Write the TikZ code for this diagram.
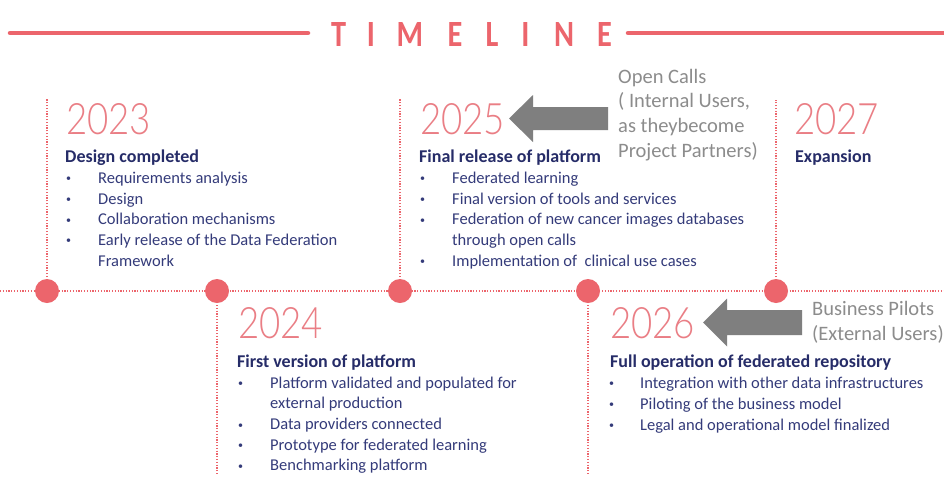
\documentclass[tikz,border=0pt]{standalone}
\usepackage{fontspec}
\usepackage{graphicx}
\setmainfont{Carlito}
\IfFontExistsTF{Lato Light}{\newfontfamily\yearfont{Lato Light}}{%
 \IfFontExistsTF{Open Sans Light}{\newfontfamily\yearfont{Open Sans Light}}{%
  \IfFontExistsTF{Fira Sans Light}{\newfontfamily\yearfont{Fira Sans Light}}{%
   \newfontfamily\yearfont{Carlito}}}}
\usetikzlibrary{calc}
\definecolor{pinkline}{HTML}{EC656C}
\definecolor{yearpink}{HTML}{EA7E85}
\definecolor{navy}{HTML}{262C68}
\definecolor{itemblue}{HTML}{343B7A}
\definecolor{notegray}{HTML}{8C8C8C}
\definecolor{arrowgray}{HTML}{7F7F7F}
\begin{document}
\begin{tikzpicture}[x=1pt,y=-1pt,
 yearst/.style={anchor=base west,inner sep=0pt,text=yearpink,font=\yearfont\fontsize{45}{45}\selectfont},
 headst/.style={anchor=base west,inner sep=0pt,text=navy,font=\bfseries\fontsize{18}{20}\selectfont},
 itemst/.style={anchor=base west,inner sep=0pt,text=itemblue,font=\fontsize{16.5}{20}\selectfont},
 bulst/.style={anchor=base west,inner sep=0pt,text=itemblue,font=\fontsize{10}{12}\selectfont},
 notest/.style={anchor=base west,inner sep=0pt,text=notegray,font=\fontsize{20.5}{24}\selectfont},
 letterst/.style={anchor=base,inner sep=0pt,text=pinkline,font=\bfseries\fontsize{37}{37}\selectfont},
 titleline/.style={draw=pinkline,line width=4.5pt,line cap=round},
 dotline/.style={draw=pinkline,line width=1.3pt,dash pattern=on 1.2pt off 1.6pt},
 dotc/.style={circle,fill=pinkline,minimum size=24pt,inner sep=0pt},
 arrowfill/.style={fill=arrowgray},
]
\fill[white] (0,0) rectangle (944,477);
\useasboundingbox (0,0) rectangle (944,477);

% title
\coordinate (tl0) at (10,33); \coordinate (tl1) at (308,33);
\coordinate (tr0) at (628,33); \coordinate (tr1) at (950,33);
\draw[titleline] (tl0) -- (tl1);
\draw[titleline] (tr0) -- (tr1);
\newcommand{\tlet}[1]{\scalebox{0.82}[1]{#1}}
\node[letterst] (t1) at (338.7,46) {\tlet{T}};
\node[letterst] (t2) at (371,46) {\tlet{I}};
\node[letterst] (t3) at (410,46) {\tlet{M}};
\node[letterst] (t4) at (455,46) {\tlet{E}};
\node[letterst] (t5) at (492,46) {\tlet{L}};
\node[letterst] (t6) at (525.5,46) {\tlet{I}};
\node[letterst] (t7) at (564,46) {\tlet{N}};
\node[letterst] (t8) at (604.5,46) {\tlet{E}};

% timeline axis
\coordinate (m0) at (0,291); \coordinate (m1) at (944,291);
\coordinate (p23) at (47,291); \coordinate (p24) at (217,291);
\coordinate (p25) at (400,291); \coordinate (p26) at (588,291);
\coordinate (p27) at (776,291);
\coordinate (v23) at (47,98); \coordinate (v25) at (400,98);
\coordinate (v27) at (776,100);
\coordinate (v24) at (217,474); \coordinate (v26) at (588,474);
\draw[dotline] (m0) -- (m1);
\draw[dotline] (p23) -- (v23);
\draw[dotline] (p25) -- (v25);
\draw[dotline] (p27) -- (v27);
\draw[dotline] (p24) -- (v24);
\draw[dotline] (p26) -- (v26);
\node[dotc] (d23) at (p23) {};
\node[dotc] (d24) at (p24) {};
\node[dotc] (d25) at (p25) {};
\node[dotc] (d26) at (p26) {};
\node[dotc] (d27) at (p27) {};

\newcommand{\yr}[1]{\resizebox{85pt}{31pt}{#1}}
\newcommand{\bl}{\raisebox{1.2pt}{\textbullet}}

% 2023
\node[yearst] (y23) at (66,134) {\yr{2023}};
\node[headst] (h23) at (65,162) {Design completed};
\node[bulst] (b23a) at (66,183) {\bl};
\node[itemst] (i23a) at (98,183) {Requirements analysis};
\node[bulst] (b23b) at (66,204) {\bl};
\node[itemst] (i23b) at (98,204) {Design};
\node[bulst] (b23c) at (66,224.5) {\bl};
\node[itemst] (i23c) at (98,224.5) {Collaboration mechanisms};
\node[bulst] (b23d) at (66,245) {\bl};
\node[itemst] (i23d) at (98,245) {Early release of the Data Federation};
\node[itemst] (i23e) at (98,266) {Framework};

% 2025
\node[yearst] (y25) at (420,134) {\yr{2025}};
\node[headst] (h25) at (419,162) {Final release of platform};
\node[bulst] (b25a) at (420,183) {\bl};
\node[itemst] (i25a) at (452,183) {Federated learning};
\node[bulst] (b25b) at (420,204) {\bl};
\node[itemst] (i25b) at (452,204) {Final version of tools and services};
\node[bulst] (b25c) at (420,224.5) {\bl};
\node[itemst] (i25c) at (452,224.5) {Federation of new cancer images databases};
\node[itemst] (i25d) at (452,245) {through open calls};
\node[bulst] (b25e) at (420,266) {\bl};
\node[itemst] (i25e) at (452,266) {Implementation of\ \ clinical use cases};

% open calls note + arrow
\node[notest] (oc1) at (618,83) {Open Calls};
\node[notest] (oc2) at (618,107.7) {( Internal Users,};
\node[notest] (oc3) at (618,132.4) {as theybecome};
\node[notest] (oc4) at (618,157) {Project Partners)};
\coordinate (tipA) at (509,118.5); \coordinate (tailA) at (608,118.5);
\fill[arrowfill] (tipA) -- ($(tipA)+(24,-23.5)$) -- ($(tipA)+(24,-11.5)$) -- ($(tailA)+(0,-11.5)$)
  -- ($(tailA)+(0,11.5)$) -- ($(tipA)+(24,11.5)$) -- ($(tipA)+(24,23.5)$) -- cycle;

% 2027
\node[yearst] (y27) at (794,134) {\yr{2027}};
\node[headst] (h27) at (795,162) {Expansion};

% 2024
\node[yearst] (y24) at (238,338) {\yr{2024}};
\node[headst] (h24) at (237,367) {First version of platform};
\node[bulst] (b24a) at (238,388) {\bl};
\node[itemst] (i24a) at (270,388) {Platform validated and populated for};
\node[itemst] (i24b) at (270,408.7) {external production};
\node[bulst] (b24c) at (238,429.4) {\bl};
\node[itemst] (i24c) at (270,429.4) {Data providers connected};
\node[bulst] (b24d) at (238,450) {\bl};
\node[itemst] (i24d) at (270,450) {Prototype for federated learning};
\node[bulst] (b24e) at (238,470.7) {\bl};
\node[itemst] (i24e) at (270,470.7) {Benchmarking platform};

% 2026
\node[yearst] (y26) at (610,338) {\yr{2026}};
\node[headst] (h26) at (610,367) {Full operation of federated repository};
\node[bulst] (b26a) at (609,388) {\bl};
\node[itemst] (i26a) at (640,388) {Integration with other data infrastructures};
\node[bulst] (b26b) at (609,409) {\bl};
\node[itemst] (i26b) at (640,409) {Piloting of the business model};
\node[bulst] (b26c) at (609,430) {\bl};
\node[itemst] (i26c) at (640,430) {Legal and operational model finalized};

% business pilots note + arrow
\node[notest] (bp1) at (812,315) {Business Pilots};
\node[notest] (bp2) at (812,340) {(External Users)};
\coordinate (tipB) at (703,322.5); \coordinate (tailB) at (802,322.5);
\fill[arrowfill] (tipB) -- ($(tipB)+(24,-24)$) -- ($(tipB)+(24,-12.5)$) -- ($(tailB)+(0,-12.5)$)
  -- ($(tailB)+(0,12.5)$) -- ($(tipB)+(24,12.5)$) -- ($(tipB)+(24,24)$) -- cycle;
\end{tikzpicture}
\end{document}
